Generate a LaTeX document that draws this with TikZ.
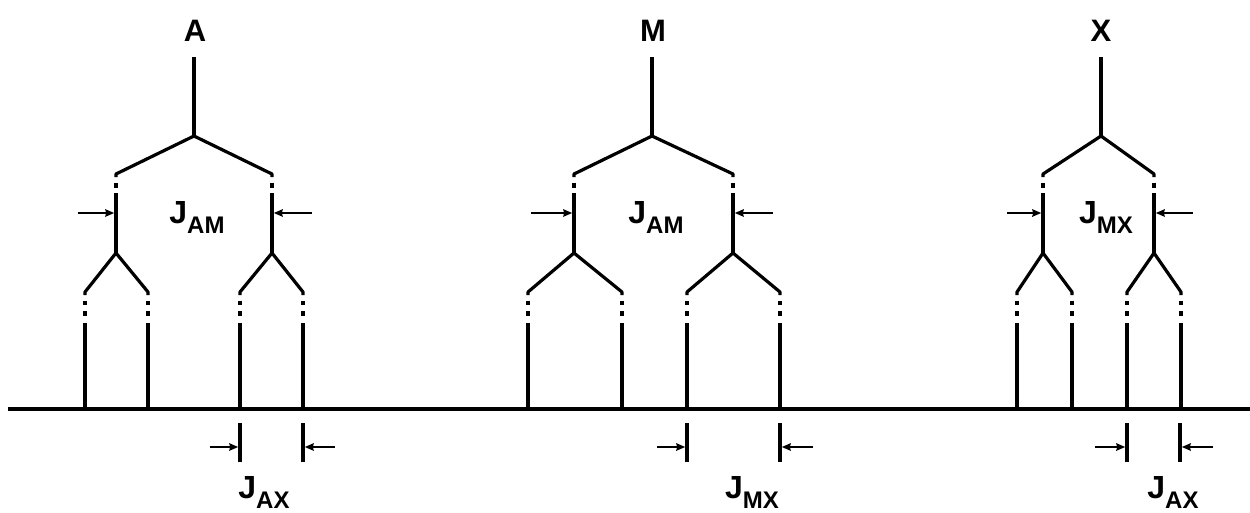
\documentclass[tikz,border=0pt]{standalone}
\usepackage{fontspec}
\setmainfont{Liberation Sans}
\usetikzlibrary{arrows.meta,calc}
\tikzset{
  stem/.style={line width=3.2pt, line cap=butt},
  baseline line/.style={line width=4pt},
  arr/.style={-{Stealth[length=9pt,width=7.5pt,inset=1pt]}, line width=1.7pt},
  tickmark/.style={line width=3.4pt},
  toplabel/.style={font=\fontsize{31}{34}\selectfont\bfseries, inner sep=0pt},
  jlabel/.style={font=\fontsize{32}{35}\selectfont\bfseries, inner sep=0pt},
}
\newcommand\jsub[1]{J\raisebox{-10pt}{\fontsize{24}{27}\selectfont #1}}
% leaf: #1 prefix, #2 x
\newcommand\myleaf[2]{%
  \coordinate (#1a1) at (#2,300.5); \coordinate (#1a2) at (#2,305);
  \coordinate (#1b1) at (#2,311); \coordinate (#1b2) at (#2,315.5);
  \coordinate (#1t) at (#2,323); \coordinate (#1e) at (#2,409);
  \draw[stem] (#1a1) -- (#1a2);
  \draw[stem] (#1b1) -- (#1b2);
  \draw[stem] (#1t) -- (#1e);}
% level-2 fork: #1 prefix, #2 x, #3 left leaf x, #4 right leaf x
\newcommand\mysub[4]{%
  \coordinate (#1dA) at (#2,182.5); \coordinate (#1dB) at (#2,187.5);
  \coordinate (#1s) at (#2,193); \coordinate (#1f) at (#2,253);
  \coordinate (#1l) at (#3,292); \coordinate (#1r) at (#4,292);
  \draw[stem] (#1dA) -- (#1dB);
  \draw[stem] (#1s) -- (#1f);
  \draw[stem, line join=round] ($(#1l)+(0,3)$) -- (#1l) -- (#1f) -- (#1r) -- ($(#1r)+(0,3)$);
  \myleaf{#1L}{#3}\myleaf{#1R}{#4}}
% tree: #1 prefix, #2 root x, #3 left x, #4 right x, #5-#8 leaves
\newcommand\mytree[8]{%
  \coordinate (#1top) at (#2,57); \coordinate (#1fork) at (#2,136);
  \coordinate (#1L) at (#3,174); \coordinate (#1R) at (#4,174);
  \draw[stem] (#1top) -- (#1fork);
  \draw[stem, line join=round] ($(#1L)+(0,3)$) -- (#1L) -- (#1fork) -- (#1R) -- ($(#1R)+(0,3)$);
  \mysub{#1l}{#3}{#5}{#6}\mysub{#1r}{#4}{#7}{#8}}
\begin{document}
\begin{tikzpicture}[x=1pt,y=-1pt]
\useasboundingbox (0,0) rectangle (1250,512);
% base line
\coordinate (b0) at (8,409); \coordinate (b1) at (1250,409);
\draw[baseline line] (b0) -- (b1);
% trees
\mytree{A}{194}{116}{272}{85}{148}{240}{303}
\mytree{M}{652}{574}{733}{528}{622}{687}{780}
\mytree{X}{1101}{1043}{1154}{1017}{1072}{1127}{1181}
% top labels
\node[toplabel] (labA) at (195,31) {A};
\node[toplabel] (labM) at (653,31) {M};
\node[toplabel] (labX) at (1101,31) {X};
% upper coupling arrows
\coordinate (Aa1) at (78,213); \coordinate (Aa2) at (312,213);
\coordinate (Ma1) at (531,213); \coordinate (Ma2) at (773,213);
\coordinate (Xa1) at (1007,213); \coordinate (Xa2) at (1193,213);
\draw[arr] (Aa1) -- ($(Als|-Aa1)+(-1.8,0)$);
\draw[arr] (Aa2) -- ($(Ars|-Aa2)+(1.8,0)$);
\draw[arr] (Ma1) -- ($(Mls|-Ma1)+(-1.8,0)$);
\draw[arr] (Ma2) -- ($(Mrs|-Ma2)+(1.8,0)$);
\draw[arr] (Xa1) -- ($(Xls|-Xa1)+(-1.8,0)$);
\draw[arr] (Xa2) -- ($(Xrs|-Xa2)+(1.8,0)$);
\node[jlabel] (jA) at (197,217) {\jsub{AM}};
\node[jlabel] (jM) at (656,217) {\jsub{AM}};
\node[jlabel] (jX) at (1106,217) {\jsub{MX}};
% lower coupling markers
\foreach \n/\x in {t1/240,t2/303,t3/687,t4/780,t5/1127,t6/1180}{
  \coordinate (\n a) at (\x,423); \coordinate (\n b) at (\x,462);
  \draw[tickmark] (\n a) -- (\n b);
}
\coordinate (c1) at (210,447); \coordinate (c2) at (335,447);
\coordinate (c3) at (657,447); \coordinate (c4) at (813,447);
\coordinate (c5) at (1095,447); \coordinate (c6) at (1213,447);
\draw[arr] (c1) -- ($(t1a|-c1)+(-1.8,0)$);
\draw[arr] (c2) -- ($(t2a|-c2)+(1.8,0)$);
\draw[arr] (c3) -- ($(t3a|-c3)+(-1.8,0)$);
\draw[arr] (c4) -- ($(t4a|-c4)+(1.8,0)$);
\draw[arr] (c5) -- ($(t5a|-c5)+(-1.8,0)$);
\draw[arr] (c6) -- ($(t6a|-c6)+(1.8,0)$);
\node[jlabel] (jAX1) at (264,492) {\jsub{AX}};
\node[jlabel] (jMX2) at (752,492) {\jsub{MX}};
\node[jlabel] (jAX2) at (1173,492) {\jsub{AX}};
\end{tikzpicture}
\end{document}
